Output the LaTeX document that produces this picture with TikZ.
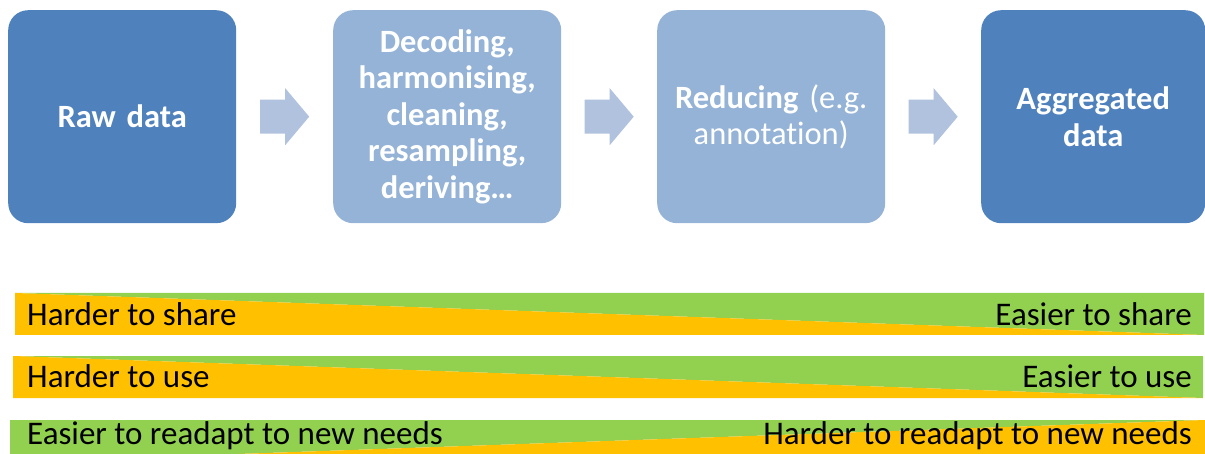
\documentclass[tikz,border=0pt]{standalone}
\usepackage{fontspec}
\setmainfont{Carlito}[Ligatures={NoCommon}]
\begin{document}
\definecolor{stepdark}{HTML}{4F81BD}
\definecolor{steplight}{HTML}{95B3D7}
\definecolor{arrowfill}{HTML}{B0C2DE}
\definecolor{barGreen}{HTML}{92D050}
\definecolor{barOrange}{HTML}{FFC000}
\begin{tikzpicture}[x=1pt,y=-1pt,
  stagebox/.style={rounded corners=20pt, minimum width=228pt, minimum height=213pt,
    text width=220pt, align=center, text=white, inner sep=0pt,
    font=\fontsize{32.5}{36.5}\selectfont, anchor=north west},
  bartext/.style={font=\fontsize{33}{36}\selectfont, text=black, inner sep=0pt},
  flowarrow/.style={fill=arrowfill}
]
\useasboundingbox (0,0) rectangle (1205,454);
\clip (0,0) rectangle (1205,454);

% process stages
\node[stagebox, fill=stepdark] (raw) at (8,10) {\textbf{Raw data}};
\node[stagebox, fill=steplight] (dec) at (333,10)
  {\textbf{Decoding,}\\ \textbf{harmonising,}\\ \textbf{cleaning,}\\ \textbf{resampling,}\\ \textbf{deriving…}};
\node[stagebox, fill=steplight] (red) at (657,10) {\textbf{Reducing} (e.g.\\ annotation)};
\node[stagebox, fill=stepdark, minimum width=224pt] (agg) at (981,10) {\textbf{Aggregated}\\ \textbf{data}};

% block arrows between the stages
\foreach \a/\b in {raw/dec, dec/red, red/agg}{
  \path (\a.east) -- (\b.west) coordinate[pos=0.5] (mid);
  \fill[flowarrow] ([xshift=-24.5pt,yshift=-17pt]mid) -- ([xshift=0.5pt,yshift=-17pt]mid)
    -- ([xshift=0.5pt,yshift=-28.5pt]mid) -- ([xshift=24.5pt]mid)
    -- ([xshift=0.5pt,yshift=28.5pt]mid) -- ([xshift=0.5pt,yshift=17pt]mid)
    -- ([xshift=-24.5pt,yshift=17pt]mid) -- cycle;
}

% trade-off bars
\fill[barGreen] (15,293) -- (1204,293) -- (1204,335) -- cycle;
\fill[barOrange] (15,293) -- (1204,335) -- (15,335) -- cycle;
\node[bartext, anchor=west] (hs) at (27,314) {Harder to share};
\node[bartext, anchor=east] (es) at (1192,314) {Easier to share};

\fill[barGreen] (13,356) -- (1203,356) -- (1203,398) -- cycle;
\fill[barOrange] (13,356) -- (1203,398) -- (13,398) -- cycle;
\node[bartext, anchor=west] (hu) at (27,376) {Harder to use};
\node[bartext, anchor=east] (eu) at (1192,376) {Easier to use};

\fill[barGreen] (10,420) -- (1205,420) -- (10,462) -- cycle;
\fill[barOrange] (1205,420) -- (1205,462) -- (10,462) -- cycle;
\node[bartext, anchor=west] (er) at (27,436) {Easier to readapt to new needs};
\node[bartext, anchor=east] (hr) at (1192,436) {Harder to readapt to new needs};
\end{tikzpicture}
\end{document}
